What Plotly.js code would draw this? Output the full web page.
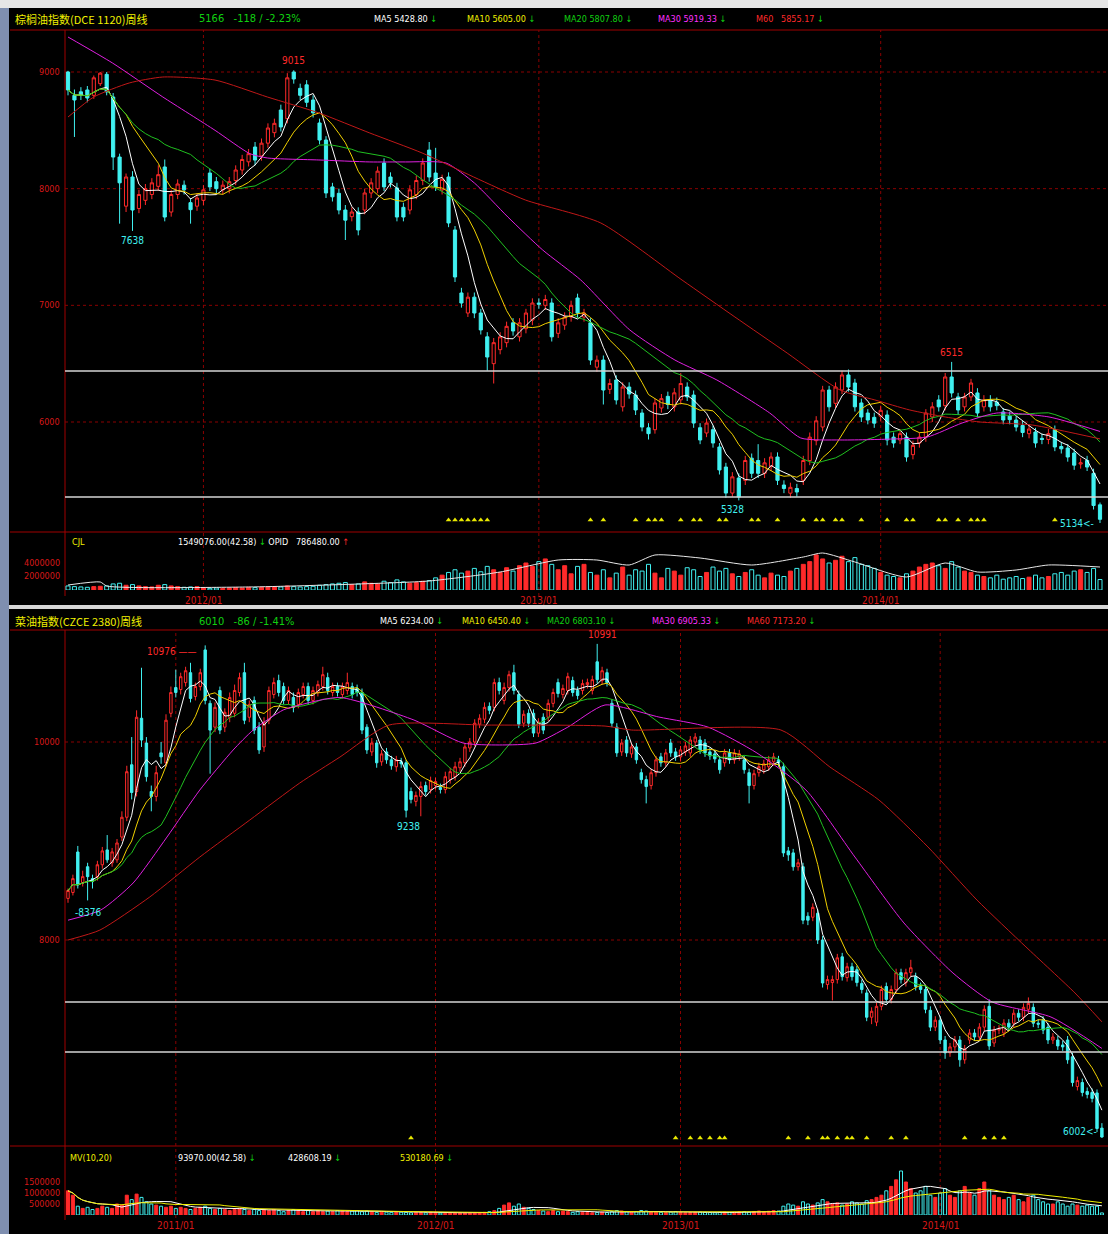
<!DOCTYPE html>
<html><head><meta charset="utf-8">
<script src="https://cdn.plot.ly/plotly-3.0.1.min.js"></script>
<style>html,body{margin:0;padding:0;background:#000;}#chart{width:1108px;height:1234px;}</style>
</head><body><div id="chart"></div>
<script>
// ===================== TOP PANEL DATA (weekly, index 0..160) =====================
const topOpen = [9000,8800,8830,8846,8800,8900,8980,8786,8271,7850,
 8100,7830,7900,7950,8020,8186,7800,7950,8030,7880,
 7850,7900,8134,8060,7990,8000,8070,8160,8230,8357,
 8280,8390,8480,8674,8600,9000,8860,8890,8760,8563,
 8417,8015,7960,7817,7760,7800,7817,7963,8000,8220,
 8100,8006,7840,7817,7950,8070,8331,8134,7990,8100,
 7646,7106,6934,7070,6934,6730,6500,6620,6680,6850,
 6730,6800,6874,7020,7000,7020,6760,6830,6900,7063,
 6900,6850,6470,6531,6280,6360,6130,6300,6231,6077,
 5950,5934,6120,6220,6130,6190,6300,6231,5951,5906,
 5934,5786,5614,5391,5520,5500,5690,5670,5560,5620,
 5700,5460,5390,5430,5500,5670,5840,5957,6274,6160,
 6274,6403,6334,6163,6077,6040,6050,6060,5870,5846,
 5871,5720,5820,5871,6043,6189,6140,6386,6215,6130,
 6215,6249,6130,6189,6170,6086,6050,6017,5970,5900,
 5914,5860,5850,5934,5790,5777,5734,5640,5670,5560,
 5290];
const topHigh = [9010,8850,8870,8880,8970,9000,9000,8820,8300,8130,
 8150,7990,8040,8090,8200,8250,7990,8080,8070,7920,
 7960,8030,8170,8100,8070,8100,8200,8290,8340,8400,
 8430,8560,8600,8720,8990,9015,8900,8930,8800,8600,
 8450,8050,8000,7860,7840,7840,8000,8090,8190,8260,
 8140,8050,7880,8030,8110,8260,8400,8350,8120,8140,
 7680,7150,7110,7110,6970,6770,6720,6770,6860,6890,
 6890,6970,7060,7060,7090,7060,6890,6940,7040,7100,
 6970,6890,6570,6570,6370,6400,6340,6340,6270,6110,
 5990,6200,6240,6260,6290,6420,6340,6270,5990,6030,
 5970,5820,5650,5570,5560,5710,5730,5810,5690,5740,
 5740,5500,5480,5470,5710,5910,6050,6310,6310,6340,
 6440,6450,6370,6200,6110,6080,6140,6100,5910,5940,
 5910,5840,5910,6110,6170,6230,6420,6515,6250,6250,
 6370,6290,6230,6230,6210,6120,6090,6050,6010,5980,
 5950,5900,5940,5970,5830,5810,5770,5690,5710,5600,
 5310];
const topLow = [8800,8443,8760,8740,8770,8880,8800,8160,7700,7800,
 7638,7790,7860,7910,7980,7720,7760,7910,7950,7700,
 7810,7860,7980,7960,7950,7960,8030,8120,8190,8200,
 8240,8350,8440,8490,8560,8900,8760,8700,8610,8380,
 7920,7890,7780,7560,7720,7600,7780,7920,7960,7980,
 8010,7720,7720,7780,7910,8030,8060,7980,7950,7670,
 7200,6980,6900,6890,6750,6440,6330,6580,6640,6740,
 6690,6760,6830,6970,6960,6690,6720,6790,6860,6890,
 6860,6490,6430,6150,6240,6150,6090,6200,6060,5920,
 5850,5900,6080,6110,6090,6150,6180,5950,5810,5870,
 5780,5550,5350,5360,5328,5460,5520,5520,5520,5580,
 5460,5390,5350,5360,5460,5630,5800,5920,6090,6120,
 6240,6260,6090,6000,5980,5950,6010,5800,5780,5810,
 5660,5680,5780,5830,6000,6090,6100,6210,6060,6090,
 6180,6040,6090,6090,6100,5980,5980,5920,5870,5860,
 5780,5810,5810,5750,5730,5660,5590,5600,5580,5250,
 5134];
const topClose = [8846,8760,8800,8777,8950,8990,8830,8271,8050,8100,
 7817,7950,8000,8050,8120,7757,7950,8040,7990,7820,
 7920,7990,8015,8000,8030,8060,8160,8250,8300,8245,
 8390,8520,8560,8529,8950,8940,8800,8740,8650,8417,
 7963,7930,7817,7730,7800,7646,7963,8050,8150,8015,
 8050,7757,7757,7990,8070,8220,8100,8015,8080,7706,
 7243,7020,7070,6934,6789,6557,6680,6730,6820,6780,
 6850,6934,7020,7010,7050,6730,6850,6900,7000,6934,
 6934,6531,6530,6274,6330,6189,6300,6240,6103,5957,
 5900,6163,6200,6150,6250,6330,6215,5991,5846,5991,
 5820,5589,5391,5530,5357,5670,5560,5560,5650,5700,
 5500,5430,5440,5400,5670,5870,6010,6274,6130,6300,
 6403,6300,6130,6043,6017,5990,6100,5846,5820,5900,
 5700,5800,5871,6077,6130,6130,6386,6249,6103,6215,
 6334,6077,6189,6130,6140,6017,6020,5957,5910,5940,
 5820,5850,5900,5786,5770,5700,5630,5650,5614,5284,
 5166];
// volume in thousands of lots
const topVol = [600,500,450,400,500,550,600,900,1000,700,
 800,600,500,450,700,800,600,500,400,450,
 500,300,250,300,250,300,350,300,400,350,
 400,450,500,450,600,500,450,500,550,700,
 800,900,1000,1100,800,900,1200,1000,900,1300,
 1100,1500,1200,1000,1100,1300,1400,1800,2200,2600,
 3000,2500,2800,3200,2700,3500,3000,2600,3300,2800,
 3600,4000,3500,4200,4600,3800,3000,3600,2400,3500,
 3800,2600,2200,3000,1800,2500,3400,2200,3000,2800,
 3800,2500,1800,3200,2800,2200,3300,3000,2000,2600,
 3400,2800,3200,2400,2000,2600,3000,2200,1800,2500,
 2200,2000,2800,3200,3800,4200,5200,4600,4000,4400,
 5000,4200,4800,3800,3600,3200,2600,2200,2000,1800,
 2400,2800,3400,3800,4000,3600,3200,4200,3400,2800,
 2600,2200,2000,1800,2200,1600,1800,2000,1700,1900,
 2200,1800,2000,2400,2600,2200,2800,3000,2600,3200,
 1549];
// open interest (thousands), read at the weeks listed
const topOiIdx = [0,5,6,28,45,56,67,76,82,87,91,98,106,114,117,122,130,136,141,147,152,160];
const topOiVal = [171,274,137,103,205,308,615,1026,1026,855,1197,1094,855,1128,1265,957,445,923,615,684,855,786];
// MA30 / MA60 lines
const topMa30Idx = [0,6.9,14.7,22.8,28.2,30.9,38.9,46.8,52.3,58.6,63,68.2,73.6,79.5,87.1,94.1,100.6,108.8,113.6,119.7,127.8,133.2,138.6,144,152.1,160];
const topMa30Val = [9300,9077,8786,8500,8300,8263,8246,8229,8229,8220,8049,7757,7474,7217,6789,6531,6360,6077,5863,5846,5854,5871,5991,6077,6043,5919];
const topMa60Idx = [0,4,9.5,14.7,22.8,30.9,38.9,46.8,54.9,62.9,70.9,82.6,95.2,103.4,111.5,119.7,125.1,130.5,136,141.4,149.5,160];
const topMa60Val = [8614,8786,8906,8957,8931,8786,8649,8477,8306,8100,7903,7706,7217,6900,6591,6274,6189,6103,6043,6000,5974,5855];
const topYearIdx = [21, 73, 126];
const topYearLbl = ['2012/01','2013/01','2014/01'];
const topSignalIdx = [59,60,61,62,63,64,65,81,83,88,90,91,92,95,97,98,101,102,106,107,110,114,116,117,119,120,123,127,130,131,135,136,138,140,141,142,153];
const topGridVals = [9000,8000,7000,6000];
const topWhiteVals = [6437,5357];
const topVolTicks = [4000,2000];
const topVolTickLbl = ['4000000','2000000'];

// ===================== BOTTOM PANEL DATA (weekly, index 0..211) =====================
const botOpen = [8420,8480,8889,8580,8740,8620,8640,8760,8910,8780,
 8810,9040,9240,9770,9500,10240,9990,9500,9450,9890,
 9790,10290,10550,10530,10600,10700,10460,10560,10930,10390,
 10150,10520,10150,10250,10290,10500,10700,10250,10420,10150,
 9950,10220,10480,10620,10560,10420,10450,10380,10480,10560,
 10420,10500,10560,10650,10500,10560,10480,10520,10560,10540,
 10500,10150,9900,9990,9800,9900,9820,9750,9800,9790,
 9500,9400,9450,9560,9520,9560,9540,9520,9620,9650,
 9740,9790,9940,10000,10180,10230,10360,10350,10600,10420,
 10550,10700,10480,10190,10290,10290,10090,10250,10250,10390,
 10600,10480,10520,10620,10520,10520,10580,10520,10810,10620,
 10700,10390,10150,9900,10020,9880,9950,9690,9620,9560,
 9690,9850,9790,9990,9900,9850,9900,9890,10000,10020,
 9990,9900,9880,9820,9790,9890,9820,9850,9820,9690,
 9560,9690,9720,9750,9800,9820,9750,8900,8880,8740,
 8740,8240,8230,8270,8000,7550,7570,7600,7830,7620,
 7730,7700,7560,7465,7220,7170,7330,7530,7400,7500,
 7670,7570,7670,7630,7530,7500,7290,7120,7190,6990,
 6860,6920,6990,6790,6990,7060,7020,7120,7330,6960,
 7090,7060,7160,7160,7260,7220,7300,7320,7160,7190,
 7120,6990,6990,6940,6990,6820,6520,6560,6470,6460,
 6455,6100];
const botHigh = [8520,8660,8950,8700,8780,8660,8800,8940,9060,8930,
 9020,9300,9760,10050,10320,10750,10050,9560,9760,10000,
 10280,10560,10730,10700,10760,10800,10600,10740,10976,10420,
 10400,10560,10340,10500,10580,10700,10800,10420,10460,10200,
 10250,10560,10650,10680,10600,10560,10500,10540,10600,10600,
 10560,10620,10760,10700,10600,10600,10600,10700,10600,10580,
 10540,10180,10040,10020,9920,9940,9860,9860,9840,9820,
 9540,9500,9600,9600,9650,9640,9580,9700,9740,9800,
 9840,9990,10040,10230,10280,10400,10400,10640,10650,10600,
 10720,10780,10520,10320,10330,10330,10240,10290,10430,10540,
 10640,10580,10700,10660,10560,10630,10640,10670,10991,10760,
 10740,10430,10190,10030,10060,9990,9990,9730,9660,9730,
 9860,9890,9930,10030,9940,9960,10000,10060,10090,10060,
 10030,9940,9920,9860,9930,9930,9930,9920,9860,9730,
 9720,9790,9820,9860,9890,9860,9790,8940,8920,8820,
 8780,8280,8370,8310,8040,7640,7640,7860,7870,7770,
 7770,7740,7600,7500,7320,7370,7540,7570,7540,7710,
 7710,7710,7800,7670,7570,7540,7330,7230,7230,7030,
 6960,7030,7030,6940,7100,7100,7160,7340,7400,7130,
 7140,7200,7200,7300,7300,7360,7420,7360,7200,7230,
 7160,7060,7030,6980,7030,6860,6620,6600,6510,6500,
 6490,6150];
const botLow = [8376,8450,8520,8540,8400,8520,8600,8720,8780,8740,
 8780,9000,9200,9420,9450,9950,9600,9300,9400,9780,
 9750,10250,10450,10480,10560,10400,10420,10520,10380,9680,
 10100,10080,10100,10200,10250,10460,10180,10200,10080,9880,
 9900,10180,10440,10460,10380,10380,10300,10340,10440,10380,
 10380,10460,10520,10480,10460,10460,10440,10480,10440,10460,
 10080,9880,9860,9740,9760,9780,9720,9700,9740,9238,
 9380,9350,9250,9460,9480,9520,9480,9480,9580,9610,
 9700,9750,9900,9960,10140,10190,10280,10310,10480,10380,
 10510,10480,10140,10150,10150,10050,10050,10080,10210,10350,
 10450,10440,10480,10460,10430,10480,10540,10480,10590,10580,
 10560,10150,9850,9860,9850,9840,9780,9580,9380,9520,
 9650,9750,9750,9850,9810,9810,9860,9850,9960,9880,
 9850,9820,9790,9680,9750,9780,9780,9810,9680,9380,
 9520,9650,9680,9710,9760,9750,8840,8800,8700,8700,
 8160,8150,8190,7960,7520,7500,7390,7560,7590,7580,
 7590,7530,7460,7180,7150,7130,7290,7360,7360,7460,
 7560,7530,7630,7490,7460,7260,7080,7080,6950,6800,
 6820,6880,6720,6750,6950,6980,6980,7080,6890,6920,
 7050,7020,7080,7120,7180,7180,7260,7120,7110,7050,
 6950,6950,6890,6880,6750,6520,6480,6420,6400,6360,
 6060,6002];
const botClose = [8500,8620,8556,8640,8640,8590,8760,8900,8810,8890,
 8980,9240,9700,9490,10250,10020,9650,9450,9690,9850,
 10220,10500,10500,10660,10720,10440,10560,10700,10420,10120,
 10350,10120,10300,10450,10520,10650,10220,10380,10120,9920,
 10200,10520,10600,10500,10420,10520,10350,10500,10560,10420,
 10520,10580,10680,10520,10560,10500,10560,10600,10480,10500,
 10120,9920,9990,9790,9880,9820,9760,9820,9780,9310,
 9420,9460,9550,9500,9610,9600,9520,9650,9700,9750,
 9800,9950,10000,10190,10240,10350,10320,10600,10520,10550,
 10680,10520,10180,10280,10190,10090,10200,10120,10390,10500,
 10490,10540,10660,10500,10470,10590,10600,10630,10630,10720,
 10600,10190,9890,9990,9890,9950,9820,9620,9550,9690,
 9820,9790,9890,9890,9850,9920,9960,10020,10050,9920,
 9890,9860,9830,9720,9890,9820,9890,9880,9720,9560,
 9680,9750,9780,9820,9850,9790,8880,8860,8740,8780,
 8200,8200,8330,8000,7566,7600,7600,7820,7630,7730,
 7630,7570,7500,7220,7280,7330,7500,7400,7500,7670,
 7600,7670,7720,7530,7500,7300,7120,7190,6990,6860,
 6920,6990,6790,6900,7060,7020,7120,7300,6930,7090,
 7100,7160,7120,7260,7220,7320,7360,7160,7150,7090,
 6990,7020,6930,6920,6790,6560,6580,6460,6440,6400,
 6096,6010];
const botVol = [1100,900,400,300,350,250,300,400,350,300,
 500,450,900,700,950,800,600,500,450,400,
 350,400,300,350,300,250,300,350,400,300,
 250,300,250,200,250,300,250,200,250,200,
 250,200,250,200,150,200,250,200,150,200,
 150,200,150,180,150,200,180,150,180,200,
 150,180,150,120,150,130,120,150,130,120,
 100,120,110,100,120,100,90,110,100,90,
 100,110,100,90,100,120,150,200,300,450,
 550,400,500,350,300,250,200,180,150,200,
 150,180,150,120,150,130,120,100,120,130,
 110,150,200,180,150,130,150,200,180,150,
 130,120,110,130,150,120,100,110,120,130,
 120,110,100,120,130,110,120,140,150,130,
 160,180,150,170,200,180,400,500,450,400,
 600,500,450,550,700,600,500,550,450,500,
 600,550,500,650,700,800,900,1100,1300,1600,
 2000,1500,1200,1000,1100,1300,900,800,1000,1200,
 900,800,1100,1300,1000,900,1200,1500,1100,900,
 800,700,800,900,700,600,800,900,700,600,
 500,500,600,500,400,500,450,400,450,400,
 400,94];
const botMa30Idx = [0,6.7,13.3,20.2,26.9,33.7,37.8,43.9,47.3,55.5,70.6,80.6,88,95.5,102,109.6,120.6,130.6,140.6,150.6,160.6,170.6,180.6,188.6,200.6,211];
const botMa30Val = [8200,8303,8576,9040,9515,9919,10121,10323,10374,10450,10222,9990,9970,9990,10150,10374,10252,10151,9889,9515,8838,8172,7667,7374,7222,6905];
const botMa60Idx = [0,6.5,16.7,26.9,37.1,47.3,55.5,65.5,85.5,109.6,115,145.5,155.5,165.5,175.5,185.5,195.5,205.5,211];
const botMa60Val = [8000,8100,8435,8838,9212,9586,9848,10171,10171,10161,10121,10121,9747,9414,8940,8404,7930,7465,7173];
const botYearIdx = [22, 75, 125, 178];
const botYearLbl = ['2011/01','2012/01','2013/01','2014/01'];
const botSignalIdx = [70,124,127,129,131,133,134,147,151,154,155,157,159,160,163,168,171,183,187,189,191];
const botGridVals = [10000, 8000];
const botWhiteVals = [7374, 6869];
const botVolTicks = [1500,1000,500];
const botVolTickLbl = ['1500000','1000000','500000'];

// ===================== RENDER =====================
const W = 1108, H = 1234;
const fx = p => p / W, fy = p => 1 - p / H;
const FONT = "'Liberation Sans Narrow','DejaVu Sans Condensed','Liberation Sans',sans-serif";
const CJK = "'Noto Sans CJK SC','DejaVu Sans',sans-serif";
const RED = '#ff2a2a', CYAN = '#40f0f0', GREEN = '#10d010', YEL = '#f0f000', MAG = '#ff30ff', WHITE = '#ffffff', DRED = '#c01818', FRAME = '#a00000', GRID = '#8a0000';

function movingAvg(arr, n) {
  return arr.map((_, i) => { const s = Math.max(0, i - n + 1); let t = 0; for (let k = s; k <= i; k++) t += arr[k]; return t / (i - s + 1); });
}
const idx = a => a.map((_, i) => i);

function panelTraces(o, h, l, c, vol, xa, ya, yv) {
  const x = idx(c);
  const up = c.map((v, i) => v >= o[i]);
  const tr = [];
  tr.push({ type: 'bar', x: x, y: vol, xaxis: xa, yaxis: yv, width: 0.62, hoverinfo: 'skip',
    marker: { color: up.map(u => u ? RED : 'rgba(0,0,0,0)'), line: { color: up.map(u => u ? RED : CYAN), width: 1 } } });
  tr.push({ type: 'candlestick', x: x, open: o, high: h, low: l, close: c, xaxis: xa, yaxis: ya, hoverinfo: 'skip', whiskerwidth: 0,
    increasing: { line: { color: RED, width: 1 }, fillcolor: '#000000' },
    decreasing: { line: { color: CYAN, width: 1 }, fillcolor: CYAN } });
  [[5, WHITE], [10, '#f0d000'], [20, '#20c020']].forEach(([n, col]) => {
    tr.push({ type: 'scatter', mode: 'lines', x: x, y: movingAvg(c, n), xaxis: xa, yaxis: ya, hoverinfo: 'skip', line: { color: col, width: 1 } });
  });
  return tr;
}
const knot = (xs, ys, xa, ya, col) => ({ type: 'scatter', mode: 'lines', x: xs, y: ys, xaxis: xa, yaxis: ya, hoverinfo: 'skip', line: { color: col, width: 1, shape: 'spline', smoothing: 0.6 } });

const traces = [];
traces.push(...panelTraces(topOpen, topHigh, topLow, topClose, topVol, 'x', 'y', 'y2'));
traces.push(knot(topMa30Idx, topMa30Val, 'x', 'y', '#e020e0'));
traces.push(knot(topMa60Idx, topMa60Val, 'x', 'y', DRED));
traces.push(knot(topOiIdx, topOiVal, 'x', 'y3', '#e8e8e8'));
traces.push({ type: 'scatter', mode: 'markers', x: topSignalIdx, y: topSignalIdx.map(() => 5160), xaxis: 'x', yaxis: 'y', hoverinfo: 'skip', marker: { symbol: 'triangle-up', size: 5, color: '#e8e800' } });

traces.push(...panelTraces(botOpen, botHigh, botLow, botClose, botVol, 'x2', 'y4', 'y5'));
traces.push(knot(botMa30Idx, botMa30Val, 'x2', 'y4', '#e020e0'));
traces.push(knot(botMa60Idx, botMa60Val, 'x2', 'y4', DRED));
traces.push({ type: 'scatter', mode: 'lines', x: idx(botVol), y: movingAvg(botVol, 10), xaxis: 'x2', yaxis: 'y5', hoverinfo: 'skip', line: { color: WHITE, width: 1 } });
traces.push({ type: 'scatter', mode: 'lines', x: idx(botVol), y: movingAvg(botVol, 20), xaxis: 'x2', yaxis: 'y5', hoverinfo: 'skip', line: { color: YEL, width: 1 } });
traces.push({ type: 'scatter', mode: 'markers', x: botSignalIdx, y: botSignalIdx.map(() => 6000), xaxis: 'x2', yaxis: 'y4', hoverinfo: 'skip', marker: { symbol: 'triangle-up', size: 5, color: '#e8e800' } });

const hidden = { visible: false, fixedrange: true };
const xDom = [fx(65), 1];
const layout = {
  width: W, height: H, margin: { l: 0, r: 0, t: 0, b: 0 },
  paper_bgcolor: '#000', plot_bgcolor: '#000', showlegend: false, boxgap: 0.3,
  xaxis: Object.assign({ domain: xDom, range: [(65 - 68) / 6.45, (1108 - 68) / 6.45], anchor: 'y', rangeslider: { visible: false } }, hidden),
  xaxis2: Object.assign({ domain: xDom, range: [(65 - 68) / 4.9, (1108 - 68) / 4.9], anchor: 'y4', rangeslider: { visible: false } }, hidden),
  yaxis: Object.assign({ domain: [fy(532), fy(30)], range: [9000 - (532 - 72) * 3000 / 350, 9000 + (72 - 30) * 3000 / 350] }, hidden),
  yaxis2: Object.assign({ domain: [fy(590), fy(550)], range: [0, 40 / 6.75 * 1000] }, hidden),
  yaxis3: Object.assign({ overlaying: 'y2', range: [0, 1367.8] }, hidden),
  yaxis4: Object.assign({ domain: [fy(1145), fy(632)], range: [10000 - (1145 - 742) / 0.099, 10000 + (742 - 632) / 0.099] }, hidden),
  yaxis5: Object.assign({ domain: [fy(1215), fy(1168)], range: [0, 47 / 11 * 500] }, hidden),
  shapes: [], annotations: []
};
const S = layout.shapes, A = layout.annotations;
// frame & background strips
S.push({ type: 'rect', xref: 'paper', yref: 'paper', x0: 0, x1: 1, y0: fy(8), y1: 1, fillcolor: '#e6e6e6', line: { width: 0 }, layer: 'below' });
S.push({ type: 'rect', xref: 'paper', yref: 'paper', x0: 0, x1: fx(9), y0: 0, y1: fy(8), fillcolor: '#7f8fb0', line: { width: 0 }, layer: 'below' });
S.push({ type: 'rect', xref: 'paper', yref: 'paper', x0: fx(9), x1: 1, y0: fy(609), y1: fy(605), fillcolor: '#d8d8d8', line: { width: 0 } });
const hline = (y, x0, x1, col, w, dash) => S.push({ type: 'line', xref: 'paper', yref: 'paper', x0: fx(x0), x1: fx(x1), y0: fy(y), y1: fy(y), line: { color: col, width: w, dash: dash || 'solid' }, layer: 'below' });
const vline = (x, y0, y1, col, w) => S.push({ type: 'line', xref: 'paper', yref: 'paper', x0: fx(x), x1: fx(x), y0: fy(y0), y1: fy(y1), line: { color: col, width: w }, layer: 'below' });
hline(30, 10, 1108, FRAME, 1); hline(532, 10, 1108, FRAME, 1);
hline(630, 10, 1108, FRAME, 1); hline(1146, 10, 1108, FRAME, 1);
vline(65, 30, 596, FRAME, 1); vline(65, 630, 1220, FRAME, 1);
// value grid lines and white level lines
topGridVals.forEach(v => S.push({ type: 'line', xref: 'paper', yref: 'y', x0: fx(65), x1: 1, y0: v, y1: v, line: { color: GRID, width: 1, dash: 'dot' }, layer: 'below' }));
botGridVals.forEach(v => S.push({ type: 'line', xref: 'paper', yref: 'y4', x0: fx(65), x1: 1, y0: v, y1: v, line: { color: GRID, width: 1, dash: 'dot' }, layer: 'below' }));
topWhiteVals.forEach(v => S.push({ type: 'line', xref: 'paper', yref: 'y', x0: fx(65), x1: 1, y0: v, y1: v, line: { color: '#d4d4d4', width: 1.6 } }));
botWhiteVals.forEach(v => S.push({ type: 'line', xref: 'paper', yref: 'y4', x0: fx(65), x1: 1, y0: v, y1: v, line: { color: '#d4d4d4', width: 1.6 } }));
topYearIdx.forEach(i => S.push({ type: 'line', xref: 'x', yref: 'paper', x0: i, x1: i, y0: fy(596), y1: fy(30), line: { color: GRID, width: 1, dash: 'dot' }, layer: 'below' }));
botYearIdx.forEach(i => S.push({ type: 'line', xref: 'x2', yref: 'paper', x0: i, x1: i, y0: fy(1218), y1: fy(630), line: { color: GRID, width: 1, dash: 'dot' }, layer: 'below' }));

function txt(x, y, text, color, size, fam) {
  A.push({ xref: 'paper', yref: 'paper', x: fx(x), y: fy(y), text: text, showarrow: false, xanchor: 'left', yanchor: 'middle', font: { family: fam || FONT, size: size || 9, color: color } });
}
const dn = ' <span style="color:' + GREEN + '">↓</span>';
const upA = ' <span style="color:' + RED + '">↑</span>';
// headers
txt(13, 19, '棕榈油指数(DCE 1120)周线', YEL, 11, CJK);
txt(197, 19, '5166&nbsp;&nbsp;&nbsp;-118 / -2.23%', GREEN, 11);
txt(372, 19, 'MA5 5428.80' + dn, WHITE);
txt(465, 19, 'MA10 5605.00' + dn, YEL);
txt(562, 19, 'MA20 5807.80' + dn, GREEN);
txt(656, 19, 'MA30 5919.33' + dn, MAG);
txt(754, 19, 'M60&nbsp;&nbsp;&nbsp;5855.17' + dn, RED);
txt(70, 542, 'CJL', YEL);
txt(176, 542, '1549076.00(42.58)' + dn + ' OPID&nbsp;&nbsp;&nbsp;786480.00' + upA, WHITE);

txt(13, 621, '菜油指数(CZCE 2380)周线', YEL, 11, CJK);
txt(197, 621, '6010&nbsp;&nbsp;&nbsp;-86 / -1.41%', GREEN, 11);
txt(378, 621, 'MA5 6234.00' + dn, WHITE);
txt(460, 621, 'MA10 6450.40' + dn, YEL);
txt(545, 621, 'MA20 6803.10' + dn, GREEN);
txt(650, 621, 'MA30 6905.33' + dn, MAG);
txt(745, 621, 'MA60 7173.20' + dn, RED);
txt(68, 1158, 'MV(10,20)', YEL);
txt(176, 1158, '93970.00(42.58)' + dn, WHITE);
txt(286, 1158, '428608.19' + dn, WHITE);
txt(398, 1158, '530180.69' + dn, YEL);

// axis labels
const axLbl = (yref, v, text) => A.push({ xref: 'paper', yref: yref, x: fx(62), y: v, text: text, showarrow: false, xanchor: 'right', yanchor: 'middle', font: { family: FONT, size: 9, color: '#d81818' } });
topGridVals.forEach(v => axLbl('y', v, String(v)));
botGridVals.forEach(v => axLbl('y4', v, String(v)));
topVolTicks.forEach((v, k) => axLbl('y2', v, topVolTickLbl[k]));
botVolTicks.forEach((v, k) => axLbl('y5', v, botVolTickLbl[k]));
topYearIdx.forEach((i, k) => A.push({ xref: 'x', yref: 'paper', x: i, y: fy(600), text: topYearLbl[k], showarrow: false, xanchor: 'center', yanchor: 'middle', font: { family: FONT, size: 10, color: '#d81818' } }));
botYearIdx.forEach((i, k) => A.push({ xref: 'x2', yref: 'paper', x: i, y: fy(1225), text: botYearLbl[k], showarrow: false, xanchor: 'center', yanchor: 'middle', font: { family: FONT, size: 10, color: '#d81818' } }));

// extreme labels
function mark(xa, ya, x, y, text, color, xanchor, yanchor, ys) {
  A.push({ xref: xa, yref: ya, x: x, y: y, text: text, showarrow: false, xanchor: xanchor, yanchor: yanchor, yshift: ys, font: { family: FONT, size: 10, color: color } });
}
mark('x', 'y', 35, topHigh[35], String(topHigh[35]), RED, 'center', 'bottom', 2);
mark('x', 'y', 10, topLow[10], String(topLow[10]), CYAN, 'center', 'top', -2);
mark('x', 'y', 103, topLow[104], String(topLow[104]), CYAN, 'center', 'top', -2);
mark('x', 'y', 137, topHigh[137], String(topHigh[137]), RED, 'center', 'bottom', 2);
mark('x', 'y', 159.4, topLow[160], String(topLow[160]) + '&lt;-', CYAN, 'right', 'middle', 0);
mark('x2', 'y4', 26.5, botHigh[28], String(botHigh[28]) + ' ——', RED, 'right', 'middle', -6);
mark('x2', 'y4', 109, botHigh[108], String(botHigh[108]), RED, 'center', 'bottom', 2);
mark('x2', 'y4', 69.5, botLow[69], String(botLow[69]), CYAN, 'center', 'top', -2);
mark('x2', 'y4', 1, botLow[0], '-' + String(botLow[0]), CYAN, 'left', 'top', -2);
mark('x2', 'y4', 210.4, botLow[211], String(botLow[211]) + '&lt;-', CYAN, 'right', 'middle', 6);

Plotly.newPlot('chart', traces, layout, { staticPlot: true, displayModeBar: false });
</script></body></html>
